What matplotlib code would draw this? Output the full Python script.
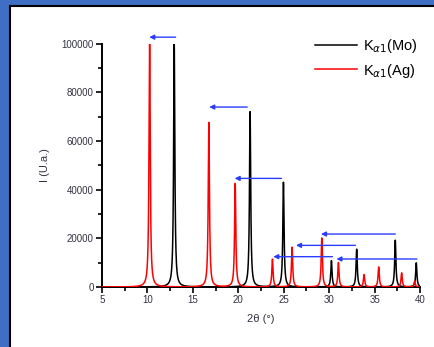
import numpy as np
import matplotlib.pyplot as plt
from matplotlib.patches import Rectangle
from matplotlib.ticker import MultipleLocator

plt.rcParams['font.family'] = ['Liberation Sans', 'DejaVu Sans']

# peak positions (2theta, deg) and heights
mo_pos = [12.95, 21.3, 24.97, 30.25, 33.03, 37.28, 39.59]
mo_height = [100000, 72000, 43000, 10800, 15500, 19200, 9900]
ag_pos = [10.24, 16.76, 19.66, 23.76, 25.92, 29.19, 31.02, 33.84, 35.45, 37.98, 39.41]
ag_height = [100000, 67600, 42500, 11400, 16300, 20100, 10000, 5100, 8200, 5800, 2400]
peak_hw = 0.08

# blue shift arrows: (start x, end x, y)
arrow_from = [13.1, 20.98, 24.75, 37.28, 32.89, 30.36, 39.66]
arrow_to = [10.2, 16.8, 19.6, 29.1, 26.35, 23.85, 30.8]
arrow_y = [102600, 73900, 44600, 21750, 17100, 12450, 11500]


def profile(x, pos, height):
    y = np.zeros_like(x)
    for p, h in zip(pos, height):
        y += h * peak_hw ** 2 / ((x - p) ** 2 + peak_hw ** 2)
    return y


x = np.linspace(5, 40, 6000)

fig = plt.figure(figsize=(4.35, 3.47), dpi=100)
fig.patch.set_facecolor('#3f6fc4')
fig.patches.append(Rectangle((12 / 435, -0.1), 1.1, 1 - 5 / 347 + 0.1, transform=fig.transFigure,
                             facecolor='#9aa0aa', edgecolor='none', zorder=-2))
fig.patches.append(Rectangle((10 / 435, -0.1), 1.1, 1 - 5 / 347 + 0.1 - 0.004, transform=fig.transFigure,
                             facecolor='white', edgecolor='black', linewidth=1.5, zorder=-1))

ax = fig.add_axes([102 / 435, 60 / 347, 318 / 435, 243.5 / 347])
ax.patch.set_alpha(0)

ax.plot(x, profile(x, mo_pos, mo_height), color='black', lw=1.1, zorder=3, label=r'K$_{\alpha1}$(Mo)')
ax.plot(x, profile(x, ag_pos, ag_height), color='red', lw=1.1, zorder=3, label=r'K$_{\alpha1}$(Ag)')

for x0, x1, yy in zip(arrow_from, arrow_to, arrow_y):
    ax.annotate('', xy=(x1, yy), xytext=(x0, yy), annotation_clip=False,
                arrowprops=dict(arrowstyle='-|>', color='#2a3cff', lw=1.0,
                                mutation_scale=7, shrinkA=0, shrinkB=0))

ax.set_xlim(5, 40)
ax.set_ylim(0, 100000)
for s in ['top', 'right']:
    ax.spines[s].set_visible(False)
for s in ['left', 'bottom']:
    ax.spines[s].set_linewidth(1.4)

ax.xaxis.set_major_locator(MultipleLocator(5))
ax.xaxis.set_minor_locator(MultipleLocator(2.5))
ax.yaxis.set_major_locator(MultipleLocator(20000))
ax.yaxis.set_minor_locator(MultipleLocator(10000))
ax.tick_params(which='major', length=4, width=1.2, labelsize=7, colors='black', labelcolor='#333344', pad=2)
ax.tick_params(which='minor', length=3, width=1.2)

ax.set_xlabel('2θ (°)', fontsize=8, color='#333344', labelpad=6)
ax.set_ylabel('I (U.a.)', fontsize=8, color='#333344', labelpad=8)

ax.legend(loc='upper right', bbox_to_anchor=(418 / 435, 1 - 37 / 347), bbox_transform=fig.transFigure,
          frameon=False, fontsize=10.5, handlelength=2.9, handletextpad=0.4, labelspacing=0.45,
          borderpad=0, borderaxespad=0)

fig.savefig('out.png', dpi=100, facecolor=fig.get_facecolor())
